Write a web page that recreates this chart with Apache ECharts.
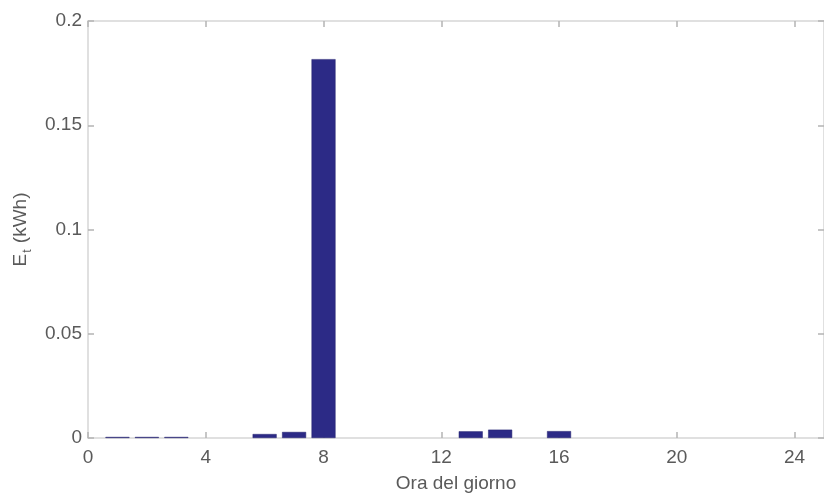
<!DOCTYPE html>
<html>
<head>
<meta charset="utf-8">
<style>
  html, body { margin: 0; padding: 0; background: #ffffff; }
  #chart { width: 824px; height: 498px; }
</style>
<script src="https://cdn.jsdelivr.net/npm/echarts@6/dist/echarts.min.js"></script>
</head>
<body>
<div id="chart"></div>
<script>
// Hourly energy E_t (kWh) over one day
const hours = [1, 2, 3, 6, 7, 8, 13, 14, 16];
const energy = [0.0005, 0.0005, 0.0005, 0.0019, 0.0029, 0.1817, 0.0032, 0.0040, 0.0033];
const xTicks = [0, 4, 8, 12, 16, 20, 24];
const yTicks = [0, 0.05, 0.1, 0.15, 0.2];

const textColor = '#5a5a5a';
const lineColor = '#d6d6d6';
const tickColor = '#b4b4b4';
const fontFamily = '"Liberation Sans", Arial, Helvetica, sans-serif';

const barData = hours.map((h, i) => [h, energy[i]]);

const chart = echarts.init(document.getElementById('chart'), null, { renderer: 'canvas' });

// Shared axis styling; ticks point inward on all four sides of the box
const xBase = {
  type: 'value', min: 0, max: 25, interval: 4,
  axisLine: { show: true, onZero: false, lineStyle: { color: lineColor, width: 1.5 } },
  axisTick: { show: true, inside: true, length: 6, lineStyle: { color: tickColor, width: 1.5 },
    customValues: xTicks },
  splitLine: { show: false }
};
const yBase = {
  type: 'value', min: 0, max: 0.2, interval: 0.05,
  axisLine: { show: true, onZero: false, lineStyle: { color: lineColor, width: 1.5 } },
  axisTick: { show: true, inside: true, length: 6, lineStyle: { color: tickColor, width: 1.5 },
    customValues: yTicks },
  splitLine: { show: false }
};

chart.setOption({
  backgroundColor: '#ffffff',
  animation: false,
  grid: { left: 88, top: 21, bottom: 59, right: -6, containLabel: false },
  xAxis: [
    Object.assign({}, xBase, {
      position: 'bottom',
      name: 'Ora del giorno',
      nameLocation: 'middle',
      nameGap: 36,
      nameTextStyle: { color: textColor, fontSize: 19, fontFamily: fontFamily },
      axisLabel: { show: true, color: textColor, fontSize: 19, fontFamily: fontFamily, margin: 10,
        customValues: xTicks, formatter: v => String(v) }
    }),
    Object.assign({}, xBase, { position: 'top', axisLabel: { show: false } })
  ],
  yAxis: [
    Object.assign({}, yBase, {
      position: 'left',
      name: '{e|E}{sub|t}{e| (kWh)}',
      nameLocation: 'middle',
      nameGap: 54,
      nameRotate: 90,
      nameTextStyle: {
        color: textColor, fontFamily: fontFamily,
        rich: {
          e: { fontSize: 19, color: textColor, fontFamily: fontFamily, lineHeight: 26, verticalAlign: 'middle' },
          sub: { fontSize: 12, color: textColor, fontFamily: fontFamily, lineHeight: 26, verticalAlign: 'bottom', padding: [10, 1, 0, 1] }
        }
      },
      axisLabel: { show: true, color: textColor, fontSize: 19, fontFamily: fontFamily, margin: 6,
        customValues: yTicks, formatter: v => String(v) }
    }),
    Object.assign({}, yBase, { position: 'right', axisLabel: { show: false } })
  ],
  series: [{
    type: 'bar',
    xAxisIndex: 0,
    yAxisIndex: 0,
    data: barData,
    barWidth: 24,
    itemStyle: { color: '#2c2a86', borderColor: '#25236f', borderWidth: 0.5 }
  }]
});
</script>
</body>
</html>
